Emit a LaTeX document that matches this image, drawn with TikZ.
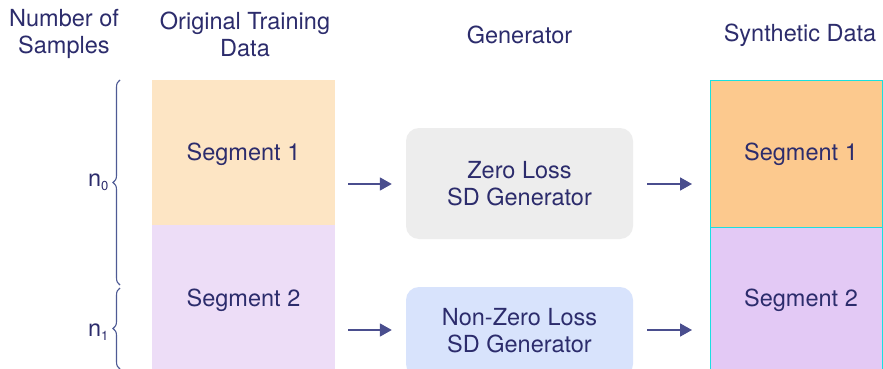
\documentclass[tikz,border=0pt]{standalone}
\usepackage{fontspec}
\setmainfont{TeX Gyre Heros}
\usetikzlibrary{arrows.meta,decorations.pathreplacing,calc}
\definecolor{txt}{HTML}{2C2C6C}
\definecolor{arr}{HTML}{4A4E8E}
\definecolor{brc}{HTML}{4E5A94}
\definecolor{peach}{HTML}{FDE5C4}
\definecolor{lilac}{HTML}{EDDDF7}
\definecolor{orng}{HTML}{FCC98E}
\definecolor{purp}{HTML}{E3C9F5}
\definecolor{grayb}{HTML}{EDEDED}
\definecolor{blueb}{HTML}{D8E3FC}
\definecolor{cyanb}{HTML}{19E0E0}
\newcommand{\subn}[1]{n\raisebox{-4pt}{\fontsize{13}{13}\selectfont #1}}
\begin{document}
\begin{tikzpicture}[x=1pt,y=-1pt,
  font=\fontsize{23.5}{27}\selectfont, text=txt,
  seg/.style={inner sep=0pt, anchor=north west},
  gen/.style={rounded corners=13pt, draw=none, align=center, inner sep=0pt},
  hdr/.style={align=center, inner sep=0pt},
  conn/.style={draw=arr, line width=1.8pt, -{Triangle[length=12pt,width=13pt]}},
  brace/.style={draw=brc, line width=1.1pt, decorate, decoration={brace, amplitude=7pt, aspect=0.5}}]
\clip (0,0) rectangle (883,369);
\fill[white] (0,0) rectangle (883,369);
% original data
\node[seg, fill=peach, minimum width=183pt, minimum height=145pt] (o1) at (152,80) {};
\node[seg, fill=lilac, minimum width=183pt, minimum height=146pt] (o2) at (152,225) {};
\node at (243.5,154) {Segment 1};
\node at (243.5,300) {Segment 2};
% synthetic data
\node[seg, fill=orng, minimum width=173pt, minimum height=147pt] (s1) at (710,80) {};
\node[seg, fill=purp, minimum width=173pt, minimum height=146pt] (s2) at (710,227) {};
\draw[cyanb, line width=1pt] (710,80) rectangle (882.5,380);
\draw[cyanb, line width=1pt] (710,227) -- (882.5,227);
\node at (801,154) {Segment 1};
\node at (801,300) {Segment 2};
% generators
\node[gen, fill=grayb, minimum width=227pt, minimum height=111pt] (z) at (519.5,183.5) {Zero Loss\\SD Generator};
\node[gen, fill=blueb, minimum width=227pt, minimum height=90pt] (nz) at (519.5,332) {};
\node[align=center] at (519.5,331) {Non-Zero Loss\\SD Generator};
% headers
\node[hdr] (h1) at (64,34) {Number of\\Samples};
\node[hdr] (h2) at (245,34) {Original Training\\Data};
\node[hdr] (h3) at (519.5,35) {Generator};
\node[hdr] (h4) at (800,35) {Synthetic Data};
% arrows
\coordinate (a1) at (348,184);
\coordinate (a2) at (348,330);
\coordinate (b1) at (692,184);
\coordinate (b2) at (692,330);
\draw[conn] (a1) -- ($(z.west |- a1)+(-14,0)$);
\draw[conn] (a2) -- ($(nz.west |- a2)+(-14,0)$);
\draw[conn] ($(z.east |- b1)+(14,0)$) -- (b1);
\draw[conn] ($(nz.east |- b2)+(14,0)$) -- (b2);
% braces
\draw[brace] (120,285) -- (120,80) node[midway, left=11pt, inner sep=0pt] (n0) {\subn{0}};
\draw[brace] (120,369) -- (120,288) node[pos=0.45, left=11pt, inner sep=0pt] (n1) {\subn{1}};
\end{tikzpicture}
\end{document}
